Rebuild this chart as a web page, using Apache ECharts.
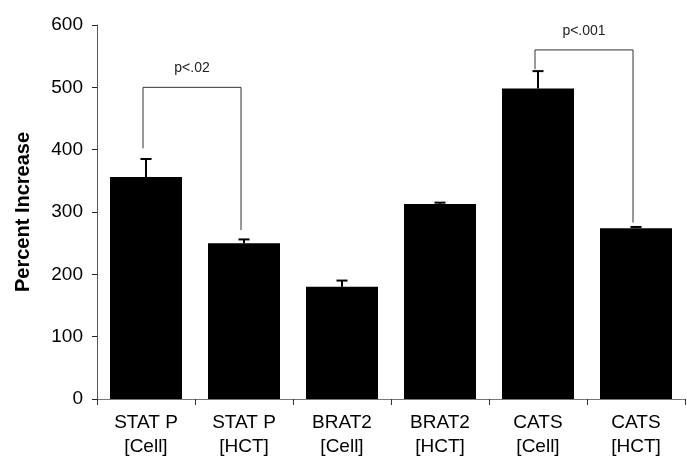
<!DOCTYPE html>
<html>
<head>
<meta charset="utf-8">
<script src="https://cdn.jsdelivr.net/npm/echarts@6/dist/echarts.min.js"></script>
<style>html,body{margin:0;padding:0;background:#fff;}#chart{width:687px;height:470px;}</style>
</head>
<body>
<div id="chart"></div>
<script>
var categories = ['STAT P\n[Cell]', 'STAT P\n[HCT]', 'BRAT2\n[Cell]', 'BRAT2\n[HCT]', 'CATS\n[Cell]', 'CATS\n[HCT]'];
var values = [356, 250, 180, 313, 498, 274];
var errors = [29, 6, 10, 2, 28, 2];
var yTicks = [0, 100, 200, 300, 400, 500, 600];
// brackets: [leftIndex, rightIndex, topValue, leftBottom, rightBottom]
var bracketSpans = [[0, 1, 500, 402, 271], [4, 5, 560, 529, 283]];
var bracketLabels = ['p<.02', 'p<.001'];

var FONT = "'Liberation Sans', Arial, Helvetica, sans-serif";
var chart = echarts.init(document.getElementById('chart'), null, {renderer: 'canvas'});

var errData = values.map(function (v, i) { return [i, v, v + errors[i]]; });
var brData = bracketSpans.map(function (b, i) { return b.concat([bracketLabels[i]]); });

chart.setOption({
  animation: false,
  backgroundColor: '#fff',
  grid: {left: 97, right: 2, top: 25, bottom: 71, containLabel: false},
  xAxis: {
    type: 'category',
    data: categories,
    boundaryGap: true,
    axisLine: {lineStyle: {color: '#777', width: 1}},
    axisTick: {show: true, length: 6, inside: false, lineStyle: {color: '#333'}},
    axisLabel: {color: '#000', fontFamily: FONT, fontSize: 19, lineHeight: 24, margin: 12}
  },
  yAxis: {
    type: 'value',
    min: 0, max: 600, interval: 100,
    name: 'Percent Increase',
    nameLocation: 'middle',
    nameGap: 64,
    nameTextStyle: {color: '#000', fontFamily: FONT, fontSize: 20, fontWeight: 'bold'},
    splitLine: {show: false},
    axisLine: {show: true, lineStyle: {color: '#555', width: 1}},
    axisTick: {show: true, length: 5, lineStyle: {color: '#222'}},
    axisLabel: {color: '#000', fontFamily: FONT, fontSize: 19, margin: 14,
      formatter: function (v) { return yTicks.indexOf(v) >= 0 ? String(v) : ''; }}
  },
  series: [
    {
      type: 'bar',
      data: values,
      barWidth: 72,
      itemStyle: {color: '#000'}
    },
    {
      type: 'custom',
      data: errData,
      encode: {x: 0, y: [1, 2]},
      z: 5,
      renderItem: function (params, api) {
        var i = api.value(0);
        var p0 = api.coord([i, api.value(1)]);
        var p1 = api.coord([i, api.value(2)]);
        var hw = 5.5;
        return {
          type: 'group',
          children: [
            {type: 'line', shape: {x1: p0[0], y1: p0[1], x2: p1[0], y2: p1[1]}, style: {stroke: '#000', lineWidth: 2}},
            {type: 'line', shape: {x1: p1[0] - hw, y1: p1[1], x2: p1[0] + hw, y2: p1[1]}, style: {stroke: '#000', lineWidth: 2}}
          ]
        };
      }
    },
    {
      type: 'custom',
      data: brData,
      encode: {x: [0, 1], y: [2, 3, 4]},
      z: 6,
      renderItem: function (params, api) {
        var a = api.value(0), b = api.value(1);
        var top = api.value(2), lb = api.value(3), rb = api.value(4);
        var label = brData[params.dataIndex][5];
        var pl = api.coord([a, top]), pr = api.coord([b, top]);
        var plb = api.coord([a, lb]), prb = api.coord([b, rb]);
        var xl = pl[0] - 3, xr = pr[0] - 3;
        return {
          type: 'group',
          children: [
            {type: 'polyline', shape: {points: [[xl, plb[1]], [xl, pl[1]], [xr, pr[1]], [xr, prb[1]]]},
              style: {stroke: '#333', lineWidth: 1, fill: null}},
            {type: 'text', x: (xl + xr) / 2, y: pl[1] - 19,
              style: {text: label, fill: '#222', font: '14px ' + FONT, align: 'center', verticalAlign: 'middle'}}
          ]
        };
      }
    }
  ]
});
</script>
</body>
</html>
